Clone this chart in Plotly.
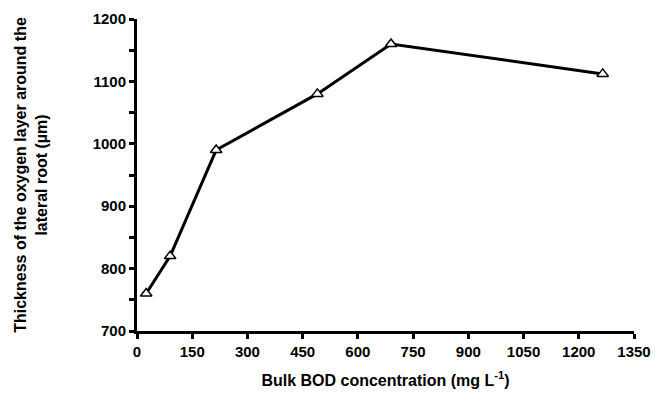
import plotly.graph_objects as go

bod = [25, 90, 215, 490, 690, 1265]
thickness = [760, 820, 990, 1080, 1160, 1112]
x_ticks = [0, 150, 300, 450, 600, 750, 900, 1050, 1200, 1350]
y_ticks = [700, 800, 900, 1000, 1100, 1200]

fig = go.Figure()
fig.add_trace(go.Scatter(
    x=bod, y=thickness, mode="lines+markers",
    line=dict(color="black", width=3),
    marker=dict(symbol="triangle-up", size=10, color="white",
                line=dict(color="black", width=1.5)),
    showlegend=False, cliponaxis=False,
))

font = dict(family="Liberation Sans, Arial, sans-serif", size=15, color="black")
fig.update_layout(
    width=655, height=394,
    margin=dict(l=137, r=21, t=19, b=63),
    plot_bgcolor="white", paper_bgcolor="white",
    font=font,
    xaxis=dict(
        range=[0, 1350], tickvals=x_ticks, ticktext=[f"<b>{v}</b>" for v in x_ticks],
        showgrid=False, zeroline=False, showline=True, linecolor="black", linewidth=3,
        ticks="outside", ticklen=5, tickwidth=2.5, tickcolor="black",
        tickfont=dict(size=15), automargin=False,
        title=dict(text="<b>Bulk BOD concentration (mg L<sup>-1</sup>)</b>", standoff=16,
                   font=dict(size=16)),
    ),
    yaxis=dict(
        range=[700, 1200], tickvals=y_ticks, ticktext=[f"<b>{v}</b>" for v in y_ticks],
        showgrid=False, zeroline=False, showline=True, linecolor="black", linewidth=3,
        ticks="outside", ticklen=5, tickwidth=2.5, tickcolor="black",
        tickfont=dict(size=15), automargin=False,
        minor=dict(dtick=50, ticks="outside", ticklen=5, tickwidth=2.5, tickcolor="black", showgrid=False),
        title=dict(text="<b>Thickness of the oxygen layer around the<br>lateral root (µm)</b>",
                   standoff=42, font=dict(size=16)),
    ),
)
fig.write_html("out.html")
